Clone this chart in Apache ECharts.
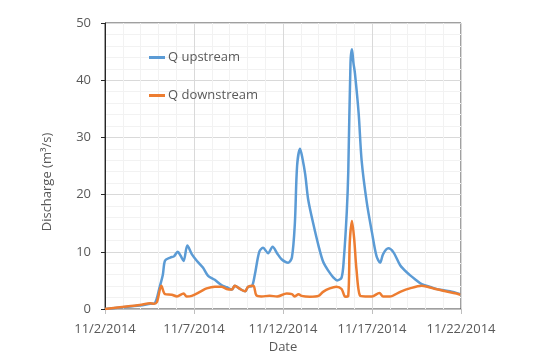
<!DOCTYPE html>
<html>
<head>
<meta charset="utf-8">
<script src="https://cdn.jsdelivr.net/npm/echarts@6/dist/echarts.min.js"></script>
<style>html,body{margin:0;padding:0;background:#fff}#c{width:548px;height:359px}</style>
</head>
<body>
<div id="c"></div>
<script>
// Hours elapsed since 11/2/2014 00:00
const upHours = [0,20,47,61,67,74,78,81,88,93,98,102,106,111,117,124,132,139,148,157,164,171,175,182,189,193,198,202,208,213,220,226,232,238,247,252,256,259,263,266,270,274,281,288,294,301,308,313,319,322,326,328,331,333,335,337,342,346,353,360,366,371,375,382,389,398,407,418,427,440,452,465,479];
const upQ = [0,0.25,0.6,0.9,1.0,4.0,6.0,8.5,9.0,9.2,10.0,9.3,8.4,11.1,9.6,8.4,7.25,5.8,5.1,4.2,3.8,3.4,4.05,3.5,3.1,3.9,4.0,6.0,10.0,10.7,9.75,10.9,9.75,8.7,8.1,9.0,15,25,28.0,26.5,23.5,19.1,14.8,11.0,8.3,6.7,5.5,5.0,5.5,8.7,17,24,43,45.4,43,41.2,34.2,26,18.6,13.35,9.3,8.1,9.6,10.6,9.9,7.66,6.4,5.2,4.35,3.8,3.36,3.1,2.6];
const downHours = [0,20,47,61,66,70,76,81,90,97,106,110,117,128,137,148,157,164,171,175,182,189,193,200,204,211,222,232,245,252,256,261,265,276,288,294,303,312,319,324,328,330,333,336,339,344,351,360,370,375,384,398,411,427,443,456,474,479];
const downQ = [0,0.3,0.7,1.0,0.9,1.2,4.05,2.6,2.5,2.2,2.7,2.2,2.3,3.0,3.6,3.9,3.9,3.5,3.4,4.05,3.5,3.1,3.9,4.05,2.4,2.2,2.3,2.2,2.7,2.6,2.2,2.6,2.3,2.15,2.3,3.0,3.6,3.9,3.5,2.15,2.3,11.6,15.4,12.2,7.0,2.3,2.2,2.2,2.8,2.2,2.2,3.0,3.6,4.05,3.6,3.2,2.7,2.5];
const xTickLabels = ['11/2/2014','11/7/2014','11/12/2014','11/17/2014','11/22/2014'];
const seriesNames = ['Q upstream','Q downstream'];
const yTitle = 'Discharge (m³/s)';

const font = 'Open Sans';
const txt = '#595959';
const fs = 13;
const chart = echarts.init(document.getElementById('c'));
chart.setOption({
  animation: false,
  textStyle: {fontFamily: font},
  grid: {left: 105, right: 87, top: 23, bottom: 49, show: true, borderColor: '#404040', borderWidth: 1, backgroundColor: 'transparent'},
  legend: {
    orient: 'vertical', left: 144, top: 46, itemGap: 25, itemWidth: 16, itemHeight: 3,
    textStyle: {fontFamily: font, fontSize: fs, color: txt, padding: [0, 0, 0, -2]},
    data: [{name: seriesNames[0], icon: 'rect'}, {name: seriesNames[1], icon: 'rect'}]
  },
  graphic: [{
    type: 'text', x: 47, y: 182, rotation: Math.PI / 2,
    style: {text: yTitle, fontFamily: font, fontSize: fs, fill: txt, align: 'center', verticalAlign: 'middle'}
  }],
  xAxis: {
    type: 'value', min: 0, max: 480, interval: 120,
    name: 'Date', nameLocation: 'middle', nameGap: 32,
    nameTextStyle: {fontFamily: font, fontSize: fs, color: txt},
    axisLine: {show: true, onZero: false, lineStyle: {color: '#BFBFBF', width: 1}},
    axisTick: {show: true, length: 5, lineStyle: {color: '#BFBFBF'}},
    axisLabel: {fontFamily: font, fontSize: fs, color: txt, margin: 14,
      formatter: v => xTickLabels[Math.round(v / 120)] || ''},
    splitLine: {show: true, lineStyle: {color: '#D9D9D9', width: 1}},
    minorTick: {show: false, splitNumber: 5},
    minorSplitLine: {show: true, lineStyle: {color: '#F2F2F2', width: 1}}
  },
  yAxis: {
    type: 'value', min: 0, max: 50, interval: 10,
    axisLine: {show: true, lineStyle: {color: '#262626', width: 1}},
    axisTick: {show: true, length: 4, lineStyle: {color: '#262626'}},
    axisLabel: {fontFamily: font, fontSize: fs, color: txt, margin: 14},
    splitLine: {show: true, lineStyle: {color: '#D9D9D9', width: 1}},
    minorTick: {show: false, splitNumber: 5},
    minorSplitLine: {show: true, lineStyle: {color: '#F2F2F2', width: 1}}
  },
  series: [
    {name: seriesNames[0], type: 'line', data: upHours.map((h, i) => [h, upQ[i]]),
     smooth: 0.3, showSymbol: false, symbol: 'none', z: 3,
     lineStyle: {color: '#5B9BD5', width: 2.5}, itemStyle: {color: '#5B9BD5'}},
    {name: seriesNames[1], type: 'line', data: downHours.map((h, i) => [h, downQ[i]]),
     smooth: 0.3, showSymbol: false, symbol: 'none', z: 4,
     lineStyle: {color: '#ED7D31', width: 2.5}, itemStyle: {color: '#ED7D31'}}
  ]
});
</script>
</body>
</html>
